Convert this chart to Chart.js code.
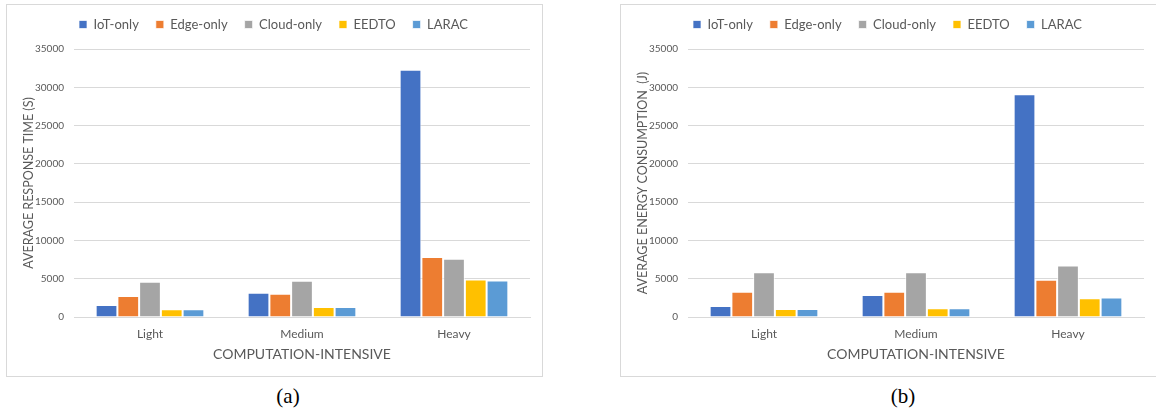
<!DOCTYPE html>
<html>
<head>
<meta charset="utf-8">
<script src="https://cdn.jsdelivr.net/npm/chart.js@4.4.1/dist/chart.umd.min.js"></script>
<style>
  html, body { margin: 0; padding: 0; background: #fff; }
  body { width: 1156px; height: 418px; position: relative; overflow: hidden; }
  .panel { position: absolute; top: 4px; width: 537px; height: 373px; box-sizing: border-box; border: 1px solid #d9d9d9; }
  .panel canvas { display: block; }
  .cap { position: absolute; top: 384px; width: 60px; margin-left: -30px; text-align: center;
         font-family: "Liberation Serif", "Times New Roman", serif; font-size: 21px; color: #000; }
</style>
</head>
<body>
<div class="panel" style="left:6px"><canvas id="respChart"></canvas></div>
<div class="panel" style="left:620px"><canvas id="energyChart"></canvas></div>
<div class="cap" style="left:288px">(a)</div>
<div class="cap" style="left:903px">(b)</div>
<script>
const categories = ['Light', 'Medium', 'Heavy'];
const methods = ['IoT-only', 'Edge-only', 'Cloud-only', 'EEDTO', 'LARAC'];
const colors = ['#4472C4', '#ED7D31', '#A5A5A5', '#FFC000', '#5B9BD5'];
const yTicks = [0, 5000, 10000, 15000, 20000, 25000, 30000, 35000];

// average response time (s)
const respIoT = [1570, 3170, 32300];
const respEdge = [2740, 3040, 7830];
const respCloud = [4610, 4740, 7610];
const respEEDTO = [1000, 1300, 4910];
const respLARAC = [1000, 1300, 4780];

// average energy consumption (J)
const energyIoT = [1450, 2860, 29100];
const energyEdge = [3290, 3290, 4870];
const energyCloud = [5850, 5850, 6710];
const energyEEDTO = [1030, 1150, 2440];
const energyLARAC = [1030, 1150, 2560];

const FONT = 'Lato, "Noto Sans", sans-serif';
const GREY = '#595959';
const LINE = '#d9d9d9';

// extra room between the legend and the plot
const legendGap = {
  id: 'legendGap',
  beforeInit(chart) {
    const fit = chart.legend.fit;
    chart.legend.fit = function () {
      fit.bind(chart.legend)();
      this.height += 8;
    };
  }
};

function makeChart(id, yTitle, series) {
  const canvas = document.getElementById(id);
  canvas.width = 535;
  canvas.height = 371;
  return new Chart(canvas, {
    type: 'bar',
    data: {
      labels: categories,
      datasets: series.map((vals, i) => ({
        label: methods[i],
        data: vals,
        backgroundColor: colors[i],
        borderColor: 'rgba(255,255,255,0.7)',
        borderWidth: 1,
        categoryPercentage: 0.715,
        barPercentage: 1
      }))
    },
    options: {
      responsive: false,
      animation: false,
      layout: { padding: { left: 10, right: 12, top: -4, bottom: 0 } },
      plugins: {
        tooltip: { enabled: false },
        legend: {
          position: 'top',
          labels: {
            boxWidth: 8,
            boxHeight: 8,
            padding: 17,
            color: GREY,
            font: { family: FONT, size: 13 }
          }
        }
      },
      scales: {
        x: {
          afterFit(scale) { scale.height = 59; },
          grid: { display: false, drawTicks: false },
          border: { color: LINE },
          ticks: { color: GREY, padding: 10, font: { family: FONT, size: 12 } },
          title: {
            display: true,
            text: 'COMPUTATION-INTENSIVE',
            color: GREY,
            padding: { top: 0, bottom: 13 },
            font: { family: FONT, size: 14 }
          }
        },
        y: {
          min: 0,
          max: 35000,
          afterFit(scale) { scale.width = 57; },
          afterBuildTicks(scale) { scale.ticks = yTicks.map(v => ({ value: v })); },
          grid: { color: LINE, drawTicks: false },
          border: { display: false },
          ticks: {
            color: GREY,
            padding: 10,
            font: { family: FONT, size: 10 },
            callback: v => String(v)
          },
          title: {
            display: true,
            text: yTitle,
            color: GREY,
            padding: { top: 4, bottom: 4 },
            font: { family: FONT, size: 12.5 }
          }
        }
      }
    },
    plugins: [legendGap]
  });
}

makeChart('respChart', 'AVERAGE RESPONSE TIME (S)',
  [respIoT, respEdge, respCloud, respEEDTO, respLARAC]);
makeChart('energyChart', 'AVERAGE ENERGY CONSUMPTION  (J)',
  [energyIoT, energyEdge, energyCloud, energyEEDTO, energyLARAC]);
</script>
</body>
</html>
